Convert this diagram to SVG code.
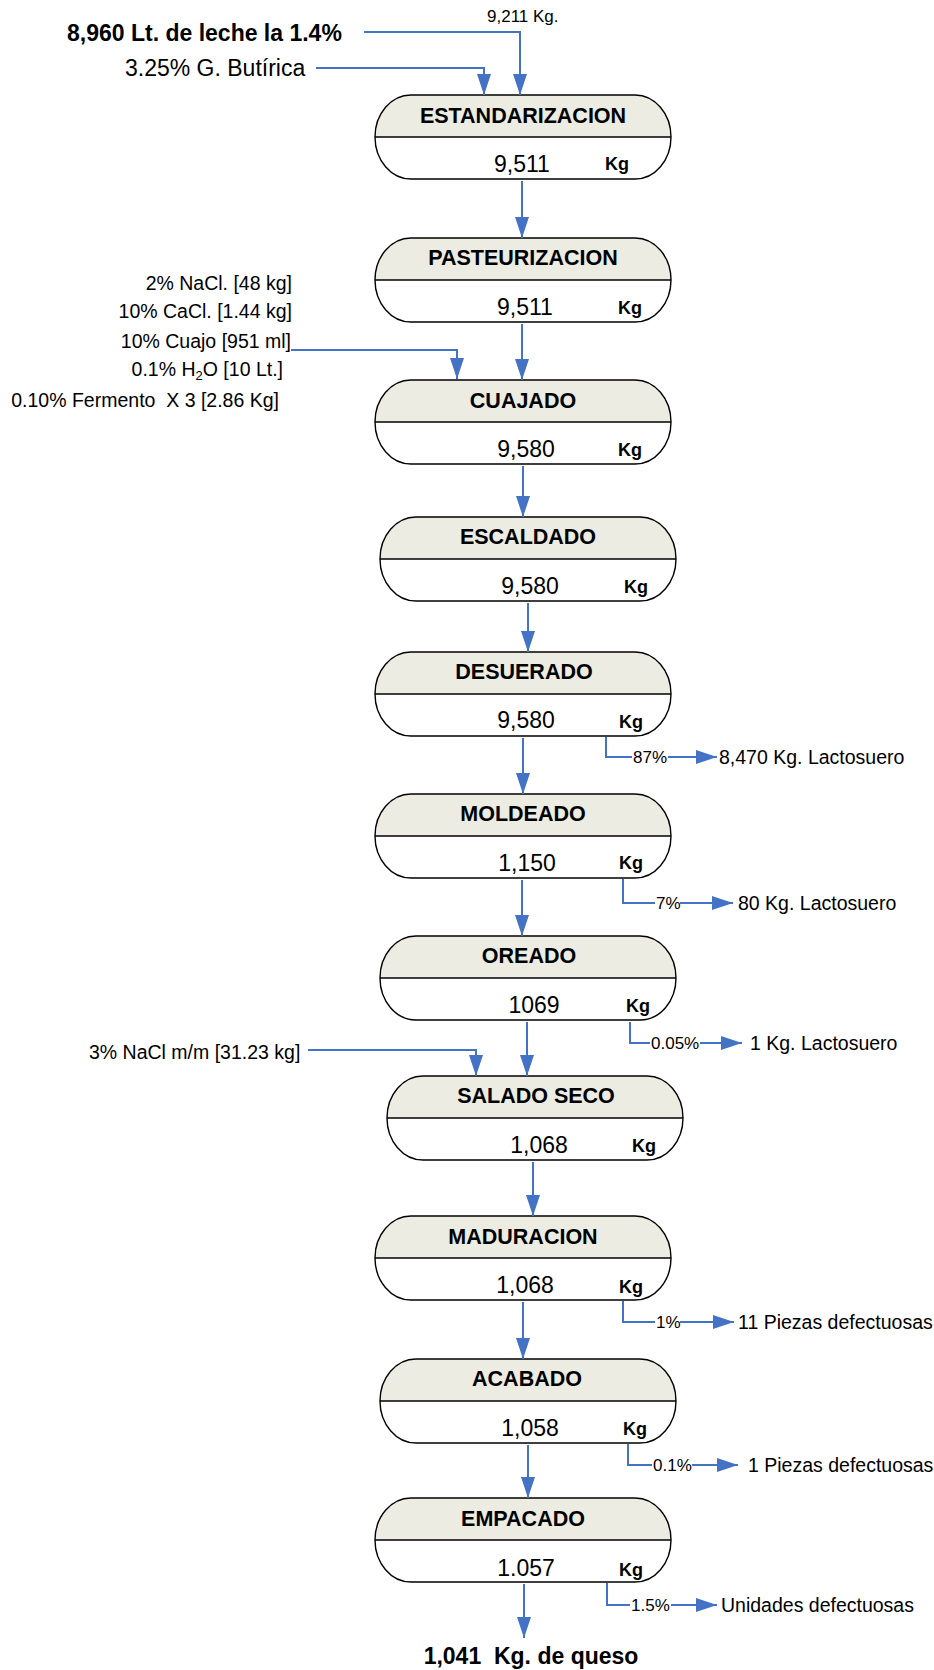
<svg xmlns="http://www.w3.org/2000/svg" xmlns:xlink="http://www.w3.org/1999/xlink" width="934" height="1670" viewBox="0 0 934 1670">
  <style>
    text { font-family: "Liberation Sans", Arial, sans-serif; fill: #000; }
    .title { font-size: 21.5px; font-weight: bold; text-anchor: middle; }
    .val { font-size: 23px; text-anchor: middle; }
    .kg { font-size: 18px; font-weight: bold; }
    .lbl { font-size: 19.5px; }
    .inR { font-size: 19.5px; text-anchor: end; }
    .pct { font-size: 17px; }
    .big { font-size: 23px; }
    .bold { font-weight: bold; }
    .flow { fill: none; stroke: #4472C4; stroke-width: 2; }
    .arw { fill: none; stroke: #4472C4; stroke-width: 2; marker-end: url(#head); }
    .body { fill: #FFFFFF; stroke: none; }
    .cap { fill: #ECECE2; stroke: none; }
    .edge { fill: none; stroke: #000; stroke-width: 1.4; }
  </style>
  <defs>
    <marker id="head" markerUnits="userSpaceOnUse" markerWidth="22" markerHeight="16" refX="21" refY="7" orient="auto">
      <path d="M0,0 L21,7 L0,14 z" fill="#4472C4"/>
    </marker>
    <!-- process box: stadium with shaded header and white body -->
    <g id="stadium">
      <path class="body" d="M36,0 H260 A36,42 0 0 1 260,84 H36 A36,42 0 0 1 36,0 z"/>
      <path class="cap" d="M0,42 A36,42 0 0 1 36,0 H260 A36,42 0 0 1 296,42 z"/>
      <path class="edge" d="M36,0 H260 A36,42 0 0 1 260,84 H36 A36,42 0 0 1 36,0 z"/>
      <line class="edge" x1="0" y1="42" x2="296" y2="42"/>
    </g>
  </defs>

  <rect width="934" height="1670" fill="#FFFFFF"/>

  <!-- inputs -->
  <g id="inputs">
    <text x="487" y="22" style="font-size:17px">9,211 Kg.</text>
    <text class="big bold" x="67" y="41">8,960 Lt. de leche la 1.4%</text>
    <text class="big" x="125" y="76">3.25% G. Butírica</text>
    <text class="inR" x="292" y="290">2% NaCl. [48 kg]</text>
    <text class="inR" x="292" y="318">10% CaCl. [1.44 kg]</text>
    <text class="inR" x="291" y="348">10% Cuajo [951 ml]</text>
    <text class="inR" x="283" y="376">0.1% H<tspan font-size="13px" dy="4">2</tspan><tspan dy="-4">O [10 Lt.]</tspan></text>
    <text class="inR" x="279" y="407" xml:space="preserve">0.10% Fermento  X 3 [2.86 Kg]</text>
    <text class="lbl" x="89" y="1059">3% NaCl m/m [31.23 kg]</text>
  </g>

  <!-- process steps -->
  <g id="n-estandarizacion">
    <use xlink:href="#stadium" x="375" y="95"/>
    <text class="title" x="523" y="123">ESTANDARIZACION</text>
    <text class="val" x="522" y="172">9,511</text>
    <text class="kg" x="605" y="170">Kg</text>
  </g>
  <g id="n-pasteurizacion">
    <use xlink:href="#stadium" x="375" y="238"/>
    <text class="title" x="523" y="265">PASTEURIZACION</text>
    <text class="val" x="525" y="315">9,511</text>
    <text class="kg" x="618" y="314">Kg</text>
  </g>
  <g id="n-cuajado">
    <use xlink:href="#stadium" x="375" y="380"/>
    <text class="title" x="523" y="408">CUAJADO</text>
    <text class="val" x="526" y="457">9,580</text>
    <text class="kg" x="618" y="456">Kg</text>
  </g>
  <g id="n-escaldado">
    <use xlink:href="#stadium" x="380" y="517"/>
    <text class="title" x="528" y="544">ESCALDADO</text>
    <text class="val" x="530" y="594">9,580</text>
    <text class="kg" x="624" y="593">Kg</text>
  </g>
  <g id="n-desuerado">
    <use xlink:href="#stadium" x="375" y="652"/>
    <text class="title" x="524" y="679">DESUERADO</text>
    <text class="val" x="526" y="728">9,580</text>
    <text class="kg" x="619" y="728">Kg</text>
  </g>
  <g id="n-moldeado">
    <use xlink:href="#stadium" x="375" y="794"/>
    <text class="title" x="523" y="821">MOLDEADO</text>
    <text class="val" x="527" y="871">1,150</text>
    <text class="kg" x="619" y="869">Kg</text>
  </g>
  <g id="n-oreado">
    <use xlink:href="#stadium" x="380" y="936"/>
    <text class="title" x="529" y="963">OREADO</text>
    <text class="val" x="534" y="1013">1069</text>
    <text class="kg" x="626" y="1012">Kg</text>
  </g>
  <g id="n-salado">
    <use xlink:href="#stadium" x="387" y="1076"/>
    <text class="title" x="536" y="1103">SALADO SECO</text>
    <text class="val" x="539" y="1153">1,068</text>
    <text class="kg" x="632" y="1152">Kg</text>
  </g>
  <g id="n-maduracion">
    <use xlink:href="#stadium" x="375" y="1216"/>
    <text class="title" x="523" y="1244">MADURACION</text>
    <text class="val" x="525" y="1293">1,068</text>
    <text class="kg" x="619" y="1293">Kg</text>
  </g>
  <g id="n-acabado">
    <use xlink:href="#stadium" x="380" y="1359"/>
    <text class="title" x="527" y="1386">ACABADO</text>
    <text class="val" x="530" y="1436">1,058</text>
    <text class="kg" x="623" y="1435">Kg</text>
  </g>
  <g id="n-empacado">
    <use xlink:href="#stadium" x="375" y="1498"/>
    <text class="title" x="523" y="1526">EMPACADO</text>
    <text class="val" x="526" y="1576">1.057</text>
    <text class="kg" x="619" y="1576">Kg</text>
  </g>

  <!-- losses -->
  <g id="outputs">
    <text class="pct" x="633" y="763">87%</text>
    <text class="lbl" x="719" y="764">8,470 Kg. Lactosuero</text>
    <text class="pct" x="656" y="909">7%</text>
    <text class="lbl" x="738" y="910">80 Kg. Lactosuero</text>
    <text class="pct" x="651" y="1049">0.05%</text>
    <text class="lbl" x="750" y="1050">1 Kg. Lactosuero</text>
    <text class="pct" x="656" y="1328">1%</text>
    <text class="lbl" x="738" y="1329">11 Piezas defectuosas</text>
    <text class="pct" x="653" y="1471">0.1%</text>
    <text class="lbl" x="748" y="1472">1 Piezas defectuosas</text>
    <text class="pct" x="631" y="1611">1.5%</text>
    <text class="lbl" x="721" y="1612">Unidades defectuosas</text>
  </g>

  <g id="n-producto">
    <text class="big bold" x="531" y="1664" text-anchor="middle" xml:space="preserve">1,041  Kg. de queso</text>
  </g>

  <!-- connectors -->
  <g id="connectors">
    <path class="arw" d="M364,32 H520 V95"/>
    <path class="arw" d="M316,68 H484 V95"/>
    <path class="arw" d="M291,350 H457 V379"/>
    <path class="arw" d="M308,1050 H476 V1076"/>

    <path class="arw" d="M522,181 V238"/>
    <path class="arw" d="M522,324 V380"/>
    <path class="arw" d="M523,466 V517"/>
    <path class="arw" d="M528,603 V652"/>
    <path class="arw" d="M523,738 V794"/>
    <path class="arw" d="M522,880 V936"/>
    <path class="arw" d="M527,1022 V1076"/>
    <path class="arw" d="M533,1162 V1216"/>
    <path class="arw" d="M523,1302 V1359"/>
    <path class="arw" d="M528,1445 V1498"/>
    <path class="arw" d="M524,1584 V1638"/>

    <path class="flow" d="M606,737 V757 H632"/>
    <path class="arw" d="M668,757 H717"/>
    <path class="flow" d="M623,879 V903 H655"/>
    <path class="arw" d="M680,903 H733"/>
    <path class="flow" d="M630,1022 V1043 H650"/>
    <path class="arw" d="M700,1043 H742"/>
    <path class="flow" d="M623,1301 V1322 H655"/>
    <path class="arw" d="M680,1322 H734"/>
    <path class="flow" d="M628,1444 V1465 H652"/>
    <path class="arw" d="M692,1465 H738"/>
    <path class="flow" d="M607,1583 V1605 H630"/>
    <path class="arw" d="M671,1605 H717"/>
  </g>
</svg>
